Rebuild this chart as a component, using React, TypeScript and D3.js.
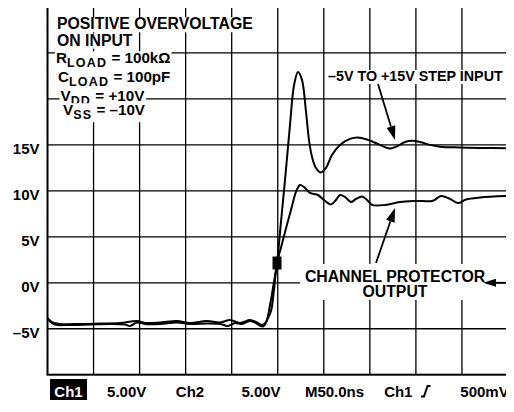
import * as d3 from "d3";
import { useRef, useEffect } from "react";

// scope trace: time in ns, level in volts
const inputTime = [0, 4.9, 13.6, 35.3, 57, 78.7, 97.2, 105.9, 122.2, 140.6, 154.7, 173.2, 187.3, 198.2, 209, 219.9, 226.4, 232.9, 237.3, 241.6, 245.9, 249.2, 253.5, 257.9, 263.3, 267.7, 272, 276.3, 280.7, 283.9, 287.2, 291.5, 296.9, 302.4, 308.9, 317.6, 328.4, 337.1, 348, 361, 371.9, 382.7, 388.2, 395.8, 404.5, 415.3, 426.2, 447.9, 469.6, 500];
const inputVolts = [-3.83, -4.27, -4.48, -4.48, -4.43, -4.37, -4.16, -4.37, -4.32, -4.16, -4.37, -4.16, -4.32, -4.05, -4.37, -4.05, -4.27, -4.6, -4.27, -2.42, 0.09, 2.15, 6.62, 11.19, 17.17, 21.52, 22.94, 22.07, 18.59, 15.54, 13.69, 12.49, 12.0, 12.49, 13.91, 15.0, 15.65, 15.81, 15.54, 15.0, 14.61, 15.0, 15.32, 15.46, 15.32, 15.0, 14.81, 14.72, 14.67, 14.64];

const outputTime = [0, 8.1, 24.4, 46.1, 67.9, 84.1, 89.6, 97.2, 105.9, 122.2, 140.6, 154.7, 173.2, 187.3, 196, 203.6, 211.2, 219.9, 225.3, 234, 239.4, 242.7, 245.9, 249.2, 253.5, 258.9, 265.4, 269.8, 274.1, 278.5, 285, 289.3, 293.7, 300.2, 307.8, 313.2, 317.6, 323, 329.5, 335, 341.5, 346.9, 352.4, 366.5, 382.7, 399, 418.6, 427.3, 437, 445.7, 454.4, 469.6, 500];
const outputVolts = [-3.94, -4.54, -4.59, -4.54, -4.48, -4.54, -4.7, -4.32, -4.48, -4.48, -4.32, -4.48, -4.43, -4.48, -4.7, -4.37, -4.48, -4.16, -4.32, -4.76, -3.83, -3.07, -0.78, 2.15, 3.8, 5.9, 8.3, 9.9, 10.64, 10.42, 9.77, 9.66, 9.55, 9.01, 8.52, 9.01, 9.55, 9.34, 8.79, 9.12, 9.39, 9.01, 8.47, 8.47, 8.79, 8.9, 8.93, 9.45, 9.12, 8.68, 9.06, 9.28, 9.45];

const voltTicks = [15, 10, 5, 0, -5];
const voltLabels = ["15V", "10V", "5V", "0V", "\u20135V"];
const statusLabels = ["Ch1", "5.00V", "Ch2", "5.00V", "M50.0ns", "Ch1", "500mV"];

// [main, subscript, rest]
const noteLines = [
  ["POSITIVE OVERVOLTAGE", "", ""],
  ["ON INPUT", "", ""],
  ["R", "LOAD", " = 100k\u03a9"],
  ["C", "LOAD", " = 100pF"],
  ["V", "DD", " = +10V"],
  ["V", "SS", " = \u201310V"],
];
const inputLabel = "\u20135V TO +15V STEP INPUT";
const outputLabel = ["CHANNEL PROTECTOR", "OUTPUT"];

const FONT = "'Liberation Sans', Arial, Helvetica, sans-serif";

export default function App() {
  const svgRef = useRef<SVGSVGElement>(null);
  const width = 514;
  const height = 412;

  useEffect(() => {
    const svg = d3.select(svgRef.current);
    svg.selectAll("*").remove();

    const x = d3.scaleLinear().domain([0, 500]).range([47.5, 508]);
    const y = d3.scaleLinear().domain([-10, 30]).range([374.7, 7]);

    svg.append("rect").attr("width", width).attr("height", height).attr("fill", "#fff");

    // grid
    const grid = svg.append("g").attr("stroke", "#000").attr("stroke-width", 1.3);
    grid
      .selectAll("line.v")
      .data(d3.range(50, 500, 50))
      .join("line")
      .attr("x1", d => x(d))
      .attr("x2", d => x(d))
      .attr("y1", y(30))
      .attr("y2", y(-10));
    grid
      .selectAll("line.h")
      .data(d3.range(-5, 30, 5))
      .join("line")
      .attr("x1", x(0))
      .attr("x2", x(500))
      .attr("y1", d => y(d))
      .attr("y2", d => y(d));

    svg
      .append("rect")
      .attr("x", x(0))
      .attr("y", y(30))
      .attr("width", x(500) - x(0))
      .attr("height", y(-10) - y(30))
      .attr("fill", "none")
      .attr("stroke", "#000")
      .attr("stroke-width", 2);

    // y labels
    svg
      .append("g")
      .attr("font-family", FONT)
      .attr("font-weight", "bold")
      .attr("font-size", 15)
      .attr("text-anchor", "end")
      .selectAll("text")
      .data(voltTicks)
      .join("text")
      .attr("x", 39.5)
      .attr("y", d => y(d) + 9)
      .text((d, i) => voltLabels[i]);

    // traces
    const line = d3
      .line<number>()
      .x(d => x(d))
      .curve(d3.curveCatmullRom.alpha(0.5));
    svg
      .append("path")
      .attr("fill", "none")
      .attr("stroke", "#000")
      .attr("stroke-width", 2)
      .attr("stroke-linejoin", "round")
      .attr("d", line.y((d, i) => y(outputVolts[i]))(outputTime));
    svg
      .append("path")
      .attr("fill", "none")
      .attr("stroke", "#000")
      .attr("stroke-width", 2)
      .attr("stroke-linejoin", "round")
      .attr("d", line.y((d, i) => y(inputVolts[i]))(inputTime));

    // trigger marker
    svg
      .append("rect")
      .attr("x", x(249.2) - 4.5)
      .attr("y", y(2.15) - 6.5)
      .attr("width", 9)
      .attr("height", 13)
      .attr("fill", "#000");

    // text with white boxes behind it
    const boxed = (g: d3.Selection<SVGGElement, unknown, null, undefined>, pad: number) => {
      g.selectAll<SVGTextElement, unknown>("text").each(function () {
        const b = this.getBBox();
        d3.select(this.parentNode as SVGGElement)
          .insert("rect", "text")
          .attr("x", b.x - pad)
          .attr("y", b.y + 2)
          .attr("width", b.width + pad * 2)
          .attr("height", b.height - 2)
          .attr("fill", "#fff");
      });
    };

    const notes = svg.append("g").attr("font-family", FONT).attr("font-weight", "bold");
    const noteX = [57, 57, 56, 58, 60.5, 63];
    const noteY = [29.3, 45.7, 63.3, 81.7, 100.5, 115.2];
    noteLines.forEach((ln, i) => {
      const g = notes.append("g");
      const t = g
        .append("text")
        .attr("x", noteX[i])
        .attr("y", noteY[i])
        .attr("font-size", i < 2 ? 15.8 : 15.2);
      t.append("tspan").text(ln[0]);
      if (ln[1]) {
        t.append("tspan").attr("dy", 4).attr("font-size", 12.5).attr("letter-spacing", 1.2).text(ln[1]);
        t.append("tspan").attr("dy", -4).text(ln[2]);
      }
      boxed(g, 1);
    });

    const inG = svg.append("g").attr("font-family", FONT).attr("font-weight", "bold").attr("font-size", 14.3);
    inG.append("text").attr("x", 328).attr("y", 81).text(inputLabel);
    boxed(inG, 2);

    // output label block
    const outG = svg.append("g");
    outG.append("rect").attr("x", 300).attr("y", 264).attr("width", 186).attr("height", 36).attr("fill", "#fff");
    outG
      .append("text")
      .attr("font-family", FONT)
      .attr("font-weight", "bold")
      .attr("font-size", 15.8)
      .attr("text-anchor", "middle")
      .selectAll("tspan")
      .data(outputLabel)
      .join("tspan")
      .attr("x", 395)
      .attr("y", (d, i) => 281.7 + i * 15)
      .text(d => d);

    // arrows
    const arrow = (x1: number, y1: number, x2: number, y2: number, len = 14, half = 4.5) => {
      const a = Math.atan2(y2 - y1, x2 - x1);
      const bx = x2 - len * Math.cos(a);
      const by = y2 - len * Math.sin(a);
      svg
        .append("line")
        .attr("x1", x1)
        .attr("y1", y1)
        .attr("x2", bx)
        .attr("y2", by)
        .attr("stroke", "#000")
        .attr("stroke-width", 1.8);
      const px = -Math.sin(a) * half;
      const py = Math.cos(a) * half;
      svg
        .append("path")
        .attr("d", `M${x2},${y2}L${bx + px},${by + py}L${bx - px},${by - py}Z`)
        .attr("fill", "#000");
    };
    arrow(378, 84, 395, 140);
    arrow(376, 263, 395, 208);
    arrow(511, y(0), 483, y(0), 13, 4);

    // status bar
    const bar = svg.append("g").attr("font-family", FONT).attr("font-weight", "bold").attr("font-size", 15);
    bar.append("rect").attr("x", 50).attr("y", 379).attr("width", 37).attr("height", 21).attr("fill", "#000");
    const centers = [68.5, 126.7, 190, 261, 334.5, 398.3, 484.5];
    bar
      .selectAll("text")
      .data(statusLabels)
      .join("text")
      .attr("x", (d, i) => centers[i])
      .attr("y", 396.5)
      .attr("text-anchor", "middle")
      .attr("fill", (d, i) => (i === 0 ? "#fff" : "#000"))
      .text(d => d);
    bar
      .append("path")
      .attr("d", "M421,396.5L424,396.5L427.5,386L430.5,386")
      .attr("fill", "none")
      .attr("stroke", "#000")
      .attr("stroke-width", 2);
  }, []);

  return (
    <svg ref={svgRef} width={width} height={height} style={{ display: "block", margin: -8 }} />
  );
}
